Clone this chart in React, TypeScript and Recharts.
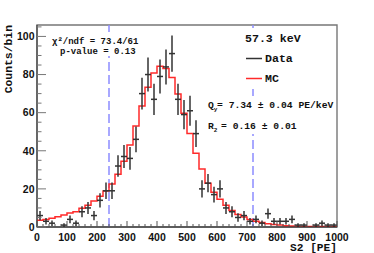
import { ComposedChart, Line, Scatter, ErrorBar, XAxis, YAxis, ReferenceLine, ReferenceArea } from 'recharts';

// histogram binning: 50 bins of 20 PE from 0 to 1000
const BIN_WIDTH = 20;

// measured counts per bin (bin centres 10, 30, ..., 990)
const dataCounts = [
  6, 3, 2, 0, 1, 4, 2, 8, 10, 6,
  14, 19, 19, 32, 37, 36, 46, 70, 80, 67,
  79, 84, 91, 67, 59, 61, 49, 20, 23, 17,
  20, 10, 8, 5, 6, 3, 4, 2, 7, 3,
  3, 3, 4, 1, 1, 0, 1, 2, 1, 1,
];

// MC expectation per bin
const mcCounts = [
  3.5, 4, 4.6, 5.4, 6.3, 7.3, 8, 9.8, 11.4, 13.6,
  16.1, 18.9, 22.5, 27.7, 34.5, 43, 53, 63.5, 73.3, 80.8,
  84.3, 83.2, 78.4, 69.8, 59.7, 49, 38.7, 30.5, 23, 18.2,
  14.6, 11.4, 8.7, 6.6, 5.2, 3.9, 3, 2.3, 1.7, 1.3,
  1, 0.7, 0.5, 0.4, 0.3, 0.3, 0.2, 0.2, 0.2, 0.2,
];

// analysis window (dashed lines)
const cutLines = [240, 720];

const xTicks = Array.from({ length: 51 }, (_, i) => i * 20);
const yTicks = Array.from({ length: 22 }, (_, i) => i * 5);

const X_MAX = 1000;
const Y_MAX = 106;

// Poisson errors on data, bin half-width horizontally; empty bins not drawn
const dataPoints = dataCounts
  .map((c, i) => ({ x: i * BIN_WIDTH + BIN_WIDTH / 2, y: c, ex: BIN_WIDTH / 2, ey: Math.sqrt(c) }))
  .filter((p) => p.y > 0);

// step outline from low edges, closed on the last bin's high edge
const mcSteps = [
  ...mcCounts.map((v, i) => ({ x: i * BIN_WIDTH, mc: v })),
  { x: X_MAX, mc: mcCounts[mcCounts.length - 1] },
];

const MONO = "'Liberation Mono', 'DejaVu Sans Mono', monospace";
const SANS = "'Liberation Sans', Arial, sans-serif";

function XTick(props: any) {
  const { x, y, payload } = props;
  const v = payload.value;
  const major = v % 100 === 0;
  return (
    <g>
      <line x1={x} x2={x} y1={y} y2={y - (major ? 6 : 3)} stroke="#555" strokeWidth={1} />
      {major && (
        <text x={x} y={y + 13.5} textAnchor="middle" fontFamily={SANS} fontWeight="bold" fontSize={10.5} fill="#111">
          {v}
        </text>
      )}
    </g>
  );
}

function YTick(props: any) {
  const { x, y, payload } = props;
  const v = payload.value;
  const major = v % 20 === 0;
  return (
    <g>
      <line x1={x} x2={x + (major ? 9 : 4.5)} y1={y} y2={y} stroke="#777" strokeWidth={1} />
      {major && (
        <text x={x - 2.5} y={y + 3.8} textAnchor="end" fontFamily={SANS} fontWeight="bold" fontSize={10.5} fill="#111">
          {v}
        </text>
      )}
    </g>
  );
}

export default function App() {
  return (
    <div style={{ position: 'fixed', left: 0, top: 0, width: 374, height: 253, background: '#fff' }}>
      <ComposedChart width={374} height={253} margin={{ top: 25, right: 37, bottom: 0, left: 0 }}>
        <XAxis
          dataKey="x"
          type="number"
          domain={[0, X_MAX]}
          ticks={xTicks}
          interval={0}
          height={26}
          tickSize={0}
          tickMargin={0}
          tickLine={false}
          tick={<XTick />}
          axisLine={{ stroke: '#222', strokeWidth: 1.2 }}
          allowDataOverflow
        />
        <YAxis
          type="number"
          domain={[0, Y_MAX]}
          ticks={yTicks}
          interval={0}
          width={37}
          tickSize={0}
          tickMargin={0}
          tickLine={false}
          tick={<YTick />}
          axisLine={{ stroke: '#444', strokeWidth: 1.2 }}
          allowDataOverflow
        />
        <ReferenceArea x1={0} x2={X_MAX} y1={0} y2={Y_MAX} fill="none" stroke="#777" strokeWidth={1.4} />
        {cutLines.map((c) => (
          <ReferenceLine key={c} x={c} stroke="#8c8cff" strokeWidth={1.5} strokeDasharray="9 4" />
        ))}
        <Line
          data={mcSteps}
          dataKey="mc"
          type="stepAfter"
          stroke="#ff2a2a"
          strokeWidth={1.5}
          dot={false}
          isAnimationActive={false}
        />
        <Scatter data={dataPoints} dataKey="y" shape={() => <g />} isAnimationActive={false}>
          <ErrorBar dataKey="ey" direction="y" width={0} stroke="#333" strokeWidth={1.5} />
          <ErrorBar dataKey="ex" direction="x" width={0} stroke="#333" strokeWidth={1.5} />
        </Scatter>
      </ComposedChart>

      <svg width={374} height={253} style={{ position: 'absolute', left: 0, top: 0, pointerEvents: 'none' }}>
        {/* white boxes of the stat / legend panes */}
        <rect x={50} y={33} width={93} height={23} fill="#fff" />
        <rect x={240} y={28} width={95} height={61} fill="#fff" />
        <rect x={205} y={96} width={130} height={38} fill="#fff" />

        <g fontFamily={MONO} fontWeight="bold" fill="#111">
          <text x={52} y={44} fontSize={9}>χ²/ndf = 73.4/61</text>
          <text x={60} y={54} fontSize={9}>p-value = 0.13</text>

          <text x={245} y={42} fontSize={11.6}>57.3 keV</text>
          <line x1={246} x2={262} y1={58.5} y2={58.5} stroke="#333" strokeWidth={1.5} />
          <text x={265} y={62} fontSize={11.6}>Data</text>
          <line x1={246} x2={262} y1={78.5} y2={78.5} stroke="#ff2a2a" strokeWidth={1.5} />
          <text x={265} y={82} fontSize={11.6}>MC</text>

          <text x={208} y={108} fontSize={9.7}>
            Q<tspan dy={2.5} fontSize={6}>y</tspan>
          </text>
          <text x={217} y={108} fontSize={9.7}>= 7.34 ± 0.04 PE/keV</text>
          <text x={208} y={129} fontSize={9.7}>
            R<tspan dy={2.5} fontSize={6}>2</tspan>
          </text>
          <text x={221} y={129} fontSize={9.7}>= 0.16 ± 0.01</text>

          <text x={337} y={251} fontSize={11.2} textAnchor="end">S2 [PE]</text>
          <text x={12} y={25} fontSize={11.4} textAnchor="end" transform="rotate(-90 12 25)">
            Counts/bin
          </text>
        </g>
      </svg>
    </div>
  );
}
